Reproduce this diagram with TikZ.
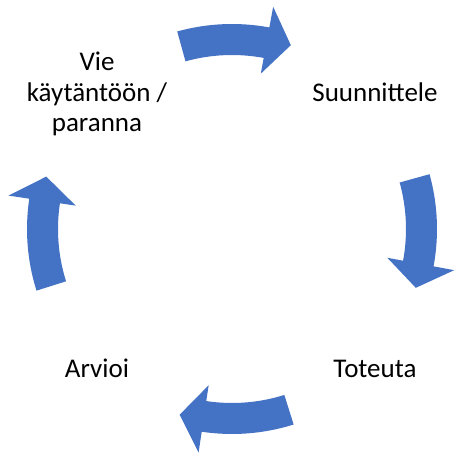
\documentclass[tikz,border=0pt]{standalone}
\usepackage{fontspec}
\setmainfont{Carlito}
\usetikzlibrary{positioning}
\definecolor{cycleblue}{HTML}{4472C4}
\tikzset{
  steplabel/.style={font=\fontsize{27}{30.5}\selectfont, text=black, inner sep=0pt, align=center},
  cyclearrow/.style={fill=cycleblue, draw=none}
}

\begin{document}
\begin{tikzpicture}[x=1pt, y=1pt]
    \useasboundingbox (0,0) rectangle (456,455);

    \node[steplabel, anchor=north] (improve) at (97,403) {Vie\\käytäntöön /\\paranna};
    \node[steplabel, anchor=base] (plan) at (375,353) {Suunnittele};
    \node[steplabel, anchor=base] (doit) at (375,77) {Toteuta};
    \node[steplabel, anchor=base] (check) at (97,77) {Arvioi};

    \coordinate (hub) at (232,226);

    % curved block arrows round the hub
    \begin{scope}[shift={(hub)}]
    \fill[cyclearrow] (105.5:205) arc[start angle=105.5, end angle=79.5, radius=205] -- (79.5:226) -- (72.25:193) -- (79.5:158) -- (79.5:174) arc[start angle=79.5, end angle=105.5, radius=174] -- cycle;
    \fill[cyclearrow] (15.5:205) arc[start angle=15.5, end angle=-10.5, radius=205] -- (-10.5:226) -- (-17.75:193) -- (-10.5:158) -- (-10.5:174) arc[start angle=-10.5, end angle=15.5, radius=174] -- cycle;
    \fill[cyclearrow] (-72.5:205) arc[start angle=-72.5, end angle=-98.5, radius=205] -- (-98.5:226) -- (-105.75:193) -- (-98.5:158) -- (-98.5:174) arc[start angle=-98.5, end angle=-72.5, radius=174] -- cycle;
    \fill[cyclearrow] (197.5:205) arc[start angle=197.5, end angle=171.5, radius=205] -- (171.5:226) -- (164.25:193) -- (171.5:158) -- (171.5:174) arc[start angle=171.5, end angle=197.5, radius=174] -- cycle;
    \end{scope}
\end{tikzpicture}
\end{document}
